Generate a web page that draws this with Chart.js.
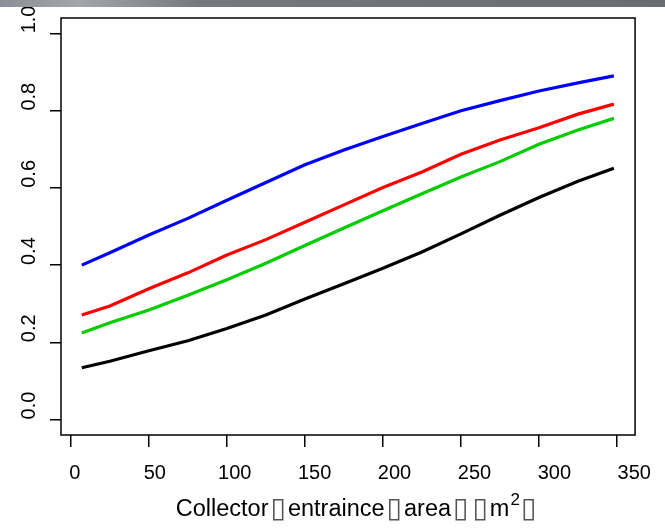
<!DOCTYPE html>
<html>
<head>
<meta charset="utf-8">
<script src="https://cdn.jsdelivr.net/npm/chart.js@4/dist/chart.umd.min.js"></script>
<style>
  html, body { margin: 0; padding: 0; background: #fff; }
  #wrap { width: 665px; height: 531px; }
</style>
</head>
<body>
<div id="wrap"><canvas id="plot" width="665" height="531"></canvas></div>
<script>
// values
const areaValues = [7, 25, 50, 75, 100, 125, 150, 175, 200, 225, 250, 275, 300, 325, 348];
const blueSeries  = [0.400, 0.432, 0.478, 0.521, 0.568, 0.614, 0.660, 0.698, 0.733, 0.767, 0.800, 0.826, 0.851, 0.872, 0.890];
const redSeries   = [0.271, 0.294, 0.339, 0.380, 0.426, 0.466, 0.511, 0.556, 0.601, 0.641, 0.687, 0.724, 0.756, 0.791, 0.817];
const greenSeries = [0.224, 0.251, 0.284, 0.322, 0.362, 0.405, 0.451, 0.496, 0.541, 0.585, 0.628, 0.668, 0.713, 0.750, 0.780];
const blackSeries = [0.134, 0.151, 0.178, 0.204, 0.236, 0.271, 0.312, 0.352, 0.392, 0.434, 0.481, 0.529, 0.575, 0.617, 0.651];

const xTicks = [0, 50, 100, 150, 200, 250, 300, 350];
const yTicks = [0.0, 0.2, 0.4, 0.6, 0.8, 1.0];
const yTickLabels = ['0.0', '0.2', '0.4', '0.6', '0.8', '1.0'];
// axis title, piece by piece: text, missing-glyph boxes, superscript
const xTitleParts = [
    ['Collector', 'text'], ['\u25AF', 'box'], ['entraince', 'text'], ['\u25AF', 'box'],
    ['area', 'text'], ['\u25AF', 'box'], ['\u25AF', 'box'], ['m', 'text'], ['2', 'sup'], ['\u25AF', 'box']
];

const fontFamily = '"Liberation Sans", Arial, "DejaVu Sans", sans-serif';

function toPoints(ys) {
    return areaValues.map(function(x, i) { return { x: x, y: ys[i] }; });
}

function line(label, ys, color) {
    return {
        label: label,
        data: toPoints(ys),
        borderColor: color,
        backgroundColor: color,
        borderWidth: 3.2,
        pointRadius: 0,
        fill: false,
        tension: 0,
        xAxisID: 'x',
        yAxisID: 'y'
    };
}

const partFonts = {
    text: '23.5px ' + fontFamily,
    box: '28px "DejaVu Sans", sans-serif',
    sup: '17px ' + fontFamily
};
const boxGap = 2;

// box around the plot, rotated y labels, x title, grey strip at the top
const framePlugin = {
    id: 'frame',
    afterDatasetsDraw: function(chart) {
        const ctx = chart.ctx;
        const a = chart.chartArea;
        ctx.save();
        ctx.strokeStyle = '#000';
        ctx.lineWidth = 1.5;
        ctx.strokeRect(a.left, a.top, a.right - a.left, a.bottom - a.top);
        ctx.restore();
    },
    afterDraw: function(chart) {
        const ctx = chart.ctx;
        const a = chart.chartArea;
        const yScale = chart.scales.y;
        ctx.save();
        ctx.fillStyle = '#000';
        ctx.font = '20px ' + fontFamily;
        ctx.textAlign = 'center';
        ctx.textBaseline = 'middle';
        yTicks.forEach(function(v, i) {
            ctx.save();
            ctx.translate(29, yScale.getPixelForValue(v) - 14);
            ctx.rotate(-Math.PI / 2);
            ctx.fillText(yTickLabels[i], 0, 0);
            ctx.restore();
        });

        // x title
        ctx.textAlign = 'left';
        ctx.textBaseline = 'alphabetic';
        function partWidth(p) {
            ctx.font = partFonts[p[1]];
            return ctx.measureText(p[0]).width + (p[1] === 'box' ? 2 * boxGap : 0);
        }
        let total = 0;
        xTitleParts.forEach(function(p) { total += partWidth(p); });
        let x = (a.left + a.right) / 2 + 9 - total / 2;
        const base = 516;
        xTitleParts.forEach(function(p) {
            const w = partWidth(p);
            ctx.fillStyle = p[1] === 'box' ? '#555' : '#000';
            if (p[1] === 'box') {
                ctx.fillText(p[0], x + boxGap, base + 1);
            } else if (p[1] === 'sup') {
                ctx.fillText(p[0], x + 1, base - 11);
            } else {
                ctx.fillText(p[0], x, base);
            }
            x += w;
        });

        // screenshot strip
        const g = ctx.createLinearGradient(0, 0, 665, 0);
        g.addColorStop(0, '#8c8f97');
        g.addColorStop(0.12, '#a3a5ac');
        g.addColorStop(0.3, '#76787f');
        g.addColorStop(1, '#6a6c73');
        ctx.fillStyle = g;
        ctx.fillRect(0, 0, 665, 7);
        ctx.restore();
    }
};

new Chart(document.getElementById('plot'), {
    type: 'line',
    data: {
        datasets: [
            line('blue', blueSeries, '#0000ff'),
            line('red', redSeries, '#ff0000'),
            line('green', greenSeries, '#00cd00'),
            line('black', blackSeries, '#000000')
        ]
    },
    options: {
        responsive: false,
        animation: false,
        layout: { padding: { top: 18, right: 27, left: 0, bottom: 0 } },
        plugins: {
            legend: { display: false },
            tooltip: { enabled: false }
        },
        scales: {
            x: {
                type: 'linear',
                position: 'bottom',
                min: -6.3,
                max: 361.6,
                afterBuildTicks: function(s) { s.ticks = xTicks.map(function(v) { return { value: v }; }); },
                grid: { drawOnChartArea: false, drawTicks: true, tickLength: 12, color: '#000', lineWidth: 1.5 },
                border: { display: false },
                ticks: { display: false },
                afterFit: function(s) { s.height = 12; }
            },
            // label row of the x axis
            xl: {
                type: 'linear',
                position: 'bottom',
                min: -8.7,
                max: 350.5,
                afterBuildTicks: function(s) { s.ticks = xTicks.map(function(v) { return { value: v }; }); },
                grid: { display: false, drawTicks: false },
                border: { display: false },
                ticks: {
                    color: '#000',
                    padding: 14,
                    maxRotation: 0,
                    font: { family: fontFamily, size: 20 }
                },
                afterFit: function(s) { s.height = 84; }
            },
            y: {
                type: 'linear',
                min: -0.04,
                max: 1.04,
                afterBuildTicks: function(s) { s.ticks = yTicks.map(function(v) { return { value: v }; }); },
                grid: { drawOnChartArea: false, drawTicks: true, tickLength: 11, color: '#000', lineWidth: 1.5 },
                border: { display: false },
                ticks: { display: false },
                afterFit: function(s) { s.width = 61; }
            }
        }
    },
    plugins: [framePlugin]
});
</script>
</body>
</html>
